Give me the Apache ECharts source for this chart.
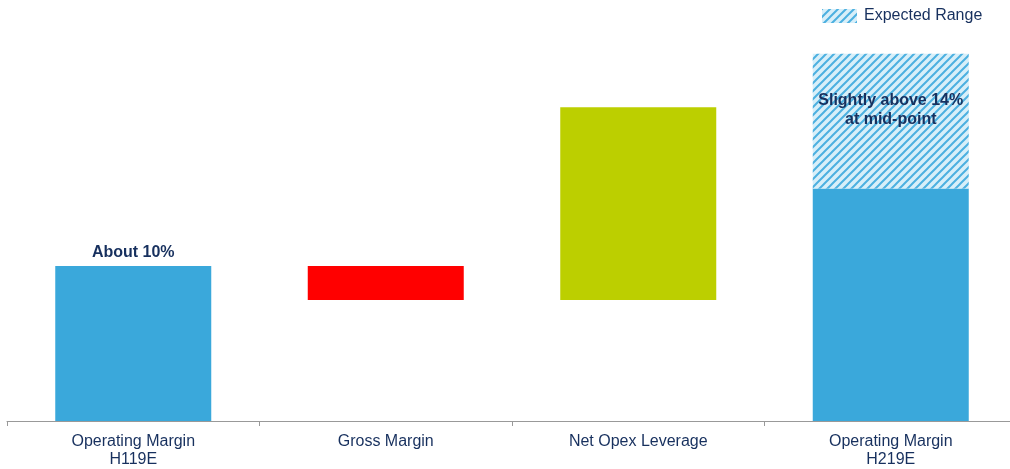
<!DOCTYPE html>
<html>
<head>
<meta charset="utf-8">
<script src="https://cdn.jsdelivr.net/npm/echarts@6/dist/echarts.min.js"></script>
<style>html,body{margin:0;padding:0;background:#fff;overflow:hidden;}#c{width:1020px;height:469px;}</style>
</head>
<body>
<div id="c"></div>
<script>
const categories = ['Operating Margin\nH119E', 'Gross Margin', 'Net Opex Leverage', 'Operating Margin\nH219E'];
const baseValues = [0, 7.8, 7.8, 0];
const barValues = [10, 2.2, 12.45, 15.0];
const rangeValues = [0, 0, 0, 8.7];
const barLabels = ['About 10%', '', '', ''];
const rangeLabels = ['', '', '', 'Slightly above 14%\nat mid-point'];
const barColors = ['#3aa8db', '#ff0000', '#bccf00', '#3aa8db'];

function makePattern() {
  const c = document.createElement('canvas');
  c.width = 8; c.height = 8;
  const ctx = c.getContext('2d');
  ctx.fillStyle = '#d8eff9';
  ctx.fillRect(0, 0, 8, 8);
  ctx.strokeStyle = '#4cb0e0';
  ctx.lineWidth = 2;
  ctx.beginPath();
  ctx.moveTo(-2, 10); ctx.lineTo(10, -2);
  ctx.moveTo(-6, 6); ctx.lineTo(6, -6);
  ctx.moveTo(2, 14); ctx.lineTo(14, 2);
  ctx.stroke();
  return c;
}
const pattern = { image: makePattern(), repeat: 'repeat' };

const chart = echarts.init(document.getElementById('c'));
const navy = '#17305e';
const ff = 'Liberation Sans, Arial, sans-serif';
chart.setOption({
  animation: false,
  textStyle: { fontFamily: ff },
  legend: {
    data: ['Expected Range'],
    left: 822, top: 8, padding: 0,
    itemWidth: 35, itemHeight: 14, itemGap: 6,
    icon: 'rect',
    textStyle: { color: navy, fontSize: 16, fontFamily: ff, padding: [0, 0, 0, 2] }
  },
  grid: { left: 7, right: 3, top: 33.5, bottom: 48, containLabel: false },
  xAxis: {
    type: 'category',
    data: categories,
    axisLine: { lineStyle: { color: '#999', width: 1 } },
    axisTick: { show: true, length: 5, lineStyle: { color: '#999' } },
    axisLabel: { color: navy, fontSize: 16, lineHeight: 18, margin: 12, interval: 0, fontFamily: ff }
  },
  yAxis: { type: 'value', min: 0, max: 25, show: false, splitLine: { show: false } },
  series: [
    {
      name: 'base', type: 'bar', stack: 'w', barWidth: 156,
      itemStyle: { color: 'transparent' }, silent: true,
      data: baseValues
    },
    {
      name: 'value', type: 'bar', stack: 'w', barWidth: 156,
      data: barValues.map((v, i) => ({
        value: v,
        itemStyle: { color: barColors[i] },
        label: {
          show: barLabels[i] !== '', position: 'top', distance: 5,
          formatter: barLabels[i], color: navy, fontSize: 16, fontWeight: 'bold',
          fontFamily: ff
        }
      }))
    },
    {
      name: 'Expected Range', type: 'bar', stack: 'w', barWidth: 156,
      itemStyle: { color: pattern },
      data: rangeValues.map((v, i) => ({
        value: v,
        label: {
          show: rangeLabels[i] !== '', position: 'insideTop', distance: 37,
          formatter: rangeLabels[i], color: navy, fontSize: 16, fontWeight: 'bold', lineHeight: 19,
          align: 'center', fontFamily: ff
        }
      }))
    }
  ]
});
</script>
</body>
</html>
